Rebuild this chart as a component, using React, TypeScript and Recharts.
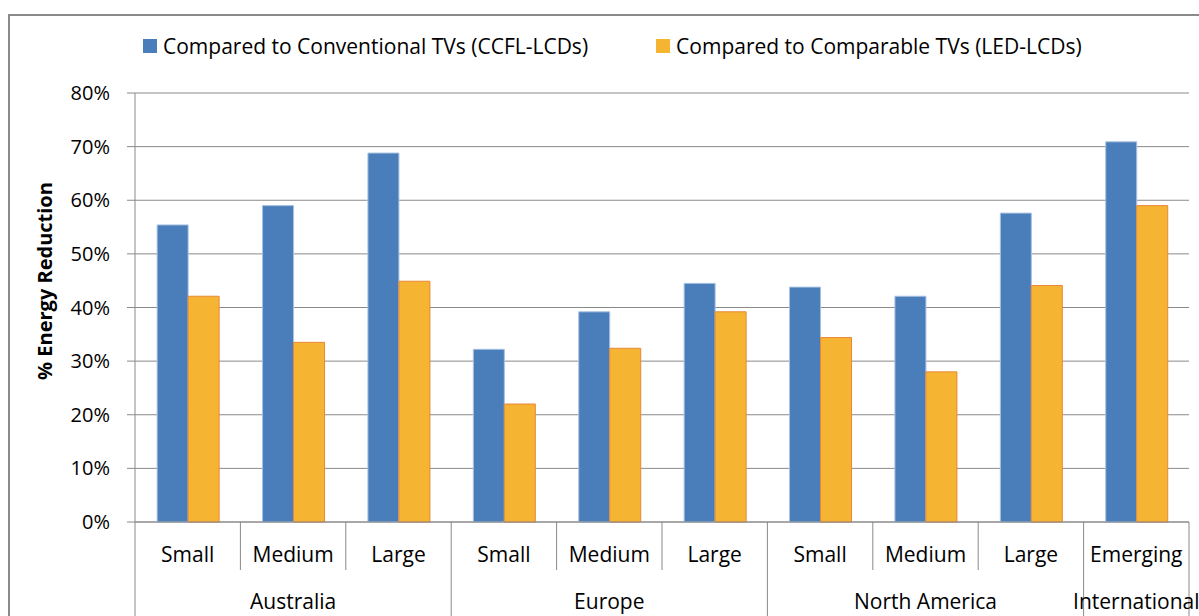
import React from "react";
import { BarChart, Bar, XAxis, YAxis, CartesianGrid } from "recharts";

const sizes = ["Small", "Medium", "Large", "Small", "Medium", "Large", "Small", "Medium", "Large", "Emerging"];
const regions = [
  "Australia", "Australia", "Australia",
  "Europe", "Europe", "Europe",
  "North America", "North America", "North America",
  "International",
];
const conventional = [55.4, 59.0, 68.8, 32.2, 39.2, 44.5, 43.8, 42.1, 57.6, 70.9];
const comparable = [42.1, 33.5, 44.9, 22.0, 32.4, 39.2, 34.4, 28.0, 44.1, 59.0];
const yTicks = [0, 10, 20, 30, 40, 50, 60, 70, 80];

const series = [
  { key: "conventional", name: "Compared to Conventional TVs (CCFL-LCDs)", fill: "#4a7ebb", stroke: "#a9c2e2" },
  { key: "comparable", name: "Compared to Comparable TVs (LED-LCDs)", fill: "#f5b431", stroke: "#e8883a" },
];

const data = sizes.map((size, i) => ({
  size,
  region: regions[i],
  conventional: conventional[i],
  comparable: comparable[i],
}));

const W = 1199;
const H = 616;
const MARGIN = { top: 93, right: 10, left: 10, bottom: 0 };
const Y_AXIS_W = 125;
const X_AXIS_H = 94;
const PLOT_BOTTOM = H - MARGIN.bottom - X_AXIS_H;
const HALF_BAND = (W - MARGIN.left - Y_AXIS_W - MARGIN.right) / data.length / 2;
const FONT = "'Open Sans', sans-serif";
const GRID = "#8a8a8a";

const groupInfo = (i: number) => {
  const r = regions[i];
  let start = i;
  while (start > 0 && regions[start - 1] === r) start--;
  let end = i;
  while (end < regions.length - 1 && regions[end + 1] === r) end++;
  return { start, size: end - start + 1, pos: i - start };
};

const CategoryTick = (props: any) => {
  const { x, payload } = props;
  const i = payload.index;
  const g = groupInfo(i);
  const mid = Math.floor((g.size - 1) / 2);
  const left = x - HALF_BAND;
  return (
    <g>
      <text x={x} y={PLOT_BOTTOM + 32} textAnchor="middle" dominantBaseline="central" fontSize={21} fill="#000" fontFamily={FONT}>
        {sizes[i]}
      </text>
      <line x1={left} x2={left} y1={PLOT_BOTTOM} y2={g.pos === 0 ? H : PLOT_BOTTOM + 48} stroke={GRID} strokeWidth={1} />
      {i === data.length - 1 && (
        <line x1={x + HALF_BAND} x2={x + HALF_BAND} y1={PLOT_BOTTOM} y2={H} stroke={GRID} strokeWidth={1} />
      )}
      {g.pos === mid && (
        <text
          x={x + ((g.size - 1) / 2 - mid) * 2 * HALF_BAND}
          y={PLOT_BOTTOM + 79}
          textAnchor="middle"
          dominantBaseline="central"
          fontSize={21}
          fill="#000"
          fontFamily={FONT}
        >
          {regions[i]}
        </text>
      )}
    </g>
  );
};

const YTitle = (props: any) => {
  const { viewBox } = props;
  const cx = viewBox.x + 34;
  const cy = 281;
  return (
    <text
      x={cx}
      y={cy}
      transform={`rotate(-90 ${cx} ${cy})`}
      textAnchor="middle"
      dominantBaseline="central"
      fontSize={20}
      fontWeight="bold"
      fontFamily={FONT}
      fill="#000"
    >
      % Energy Reduction
    </text>
  );
};

export default function App() {
  return (
    <div style={{ position: "absolute", left: 0, top: 0, width: W, height: H, overflow: "hidden", background: "#fff" }}>
      <div
        style={{
          position: "absolute",
          left: 8,
          top: 14,
          width: W + 20,
          height: H + 20,
          border: "2px solid #8a8a8a",
          boxSizing: "border-box",
        }}
      />
      <div
        style={{
          position: "absolute",
          left: 143,
          top: 32,
          display: "flex",
          fontFamily: FONT,
          fontSize: 21,
          color: "#000",
          whiteSpace: "nowrap",
        }}
      >
        {series.map((s) => (
          <div key={s.key} style={{ display: "flex", alignItems: "center", marginRight: 68 }}>
            <span style={{ display: "inline-block", width: 14, height: 14, background: s.fill, marginRight: 6 }} />
            <span>{s.name}</span>
          </div>
        ))}
      </div>
      <BarChart
        width={W}
        height={H}
        data={data}
        margin={MARGIN}
        barCategoryGap="21%"
        barGap={0}
        style={{ position: "absolute", left: 0, top: 0 }}
      >
        <CartesianGrid vertical={false} stroke={GRID} strokeWidth={1} />
        <XAxis
          dataKey="size"
          height={X_AXIS_H}
          interval={0}
          tickLine={false}
          axisLine={{ stroke: GRID }}
          tick={<CategoryTick />}
        />
        <YAxis
          width={Y_AXIS_W}
          domain={[0, 80]}
          ticks={yTicks}
          tickFormatter={(v: number) => `${v}%`}
          tickSize={8}
          tickMargin={17}
          tickLine={{ stroke: GRID }}
          axisLine={{ stroke: GRID }}
          tick={{ fontSize: 20, fill: "#000", fontFamily: FONT }}
          label={<YTitle />}
        />
        {series.map((s) => (
          <Bar
            key={s.key}
            dataKey={s.key}
            name={s.name}
            fill={s.fill}
            stroke={s.stroke}
            strokeWidth={1}
            isAnimationActive={false}
          />
        ))}
      </BarChart>
    </div>
  );
}
